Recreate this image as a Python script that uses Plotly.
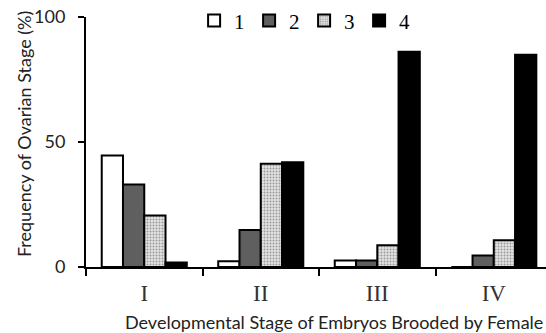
import plotly.graph_objects as go

categories = ["I", "II", "III", "IV"]
series_names = ["1", "2", "3", "4"]
stage1 = [44.6, 2.3, 2.6, 0.0]
stage2 = [33.0, 14.8, 2.6, 4.6]
stage3 = [20.6, 41.3, 8.7, 10.7]
stage4 = [1.8, 41.9, 86.1, 84.9]
values = [stage1, stage2, stage3, stage4]

x_title = "Developmental Stage of Embryos Brooded by Female"
y_title = "Frequency of Ovarian Stage (%)"

fills = ["#ffffff", "#5f5f5f", "#dcdcdc", "#000000"]

fig = go.Figure()
for i, (name, vals) in enumerate(zip(series_names, values)):
    marker = dict(color=fills[i], line=dict(color="#000000", width=2))
    if i == 2:
        marker["pattern"] = dict(shape=".", bgcolor="#e4e4e4", fgcolor="#9a9a9a",
                                 size=3, solidity=0.35, fillmode="replace")
    fig.add_trace(go.Bar(x=categories, y=vals, name=name, marker=marker))

fig.update_layout(
    width=546, height=333,
    margin=dict(l=86, r=0, t=15, b=66),
    paper_bgcolor="white", plot_bgcolor="white",
    barmode="group", bargap=0.27, bargroupgap=0,
    showlegend=True,
    legend=dict(orientation="h", x=0.235, xanchor="left", y=0.985, yanchor="middle",
                font=dict(family="Liberation Serif", size=21, color="#000"),
                entrywidth=10, bgcolor="rgba(0,0,0,0)", tracegroupgap=0),
    xaxis=dict(type="category", range=[-0.5, 3.448],
               showline=True, linecolor="#000", linewidth=2,
               ticks="outside", tickson="boundaries", ticklen=7, tickwidth=2, tickcolor="#000",
               ticklabelstandoff=4,
               tickfont=dict(family="Liberation Serif", size=23, color="#333"),
               showgrid=False),
    yaxis=dict(range=[0, 100], tickvals=[0, 50, 100],
               showline=True, linecolor="#000", linewidth=2,
               ticks="outside", ticklen=6, tickwidth=2, tickcolor="#000",
               ticklabelstandoff=9,
               tickfont=dict(family="Lato", size=18, color="#222"),
               showgrid=False, zeroline=False),
    font=dict(family="Lato"),
    annotations=[
        dict(text=x_title, xref="paper", yref="paper",
             x=(334 - 86) / 460, y=-(322 - 267) / 252,
             xanchor="center", yanchor="middle", showarrow=False,
             font=dict(family="Lato", size=18, color="#222")),
        dict(text=y_title, xref="paper", yref="paper",
             x=-(86 - 24) / 460, y=(267 - 133) / 252, textangle=-90,
             xanchor="center", yanchor="middle", showarrow=False,
             font=dict(family="Lato", size=18, color="#222")),
    ],
)

fig.write_html("out.html")
